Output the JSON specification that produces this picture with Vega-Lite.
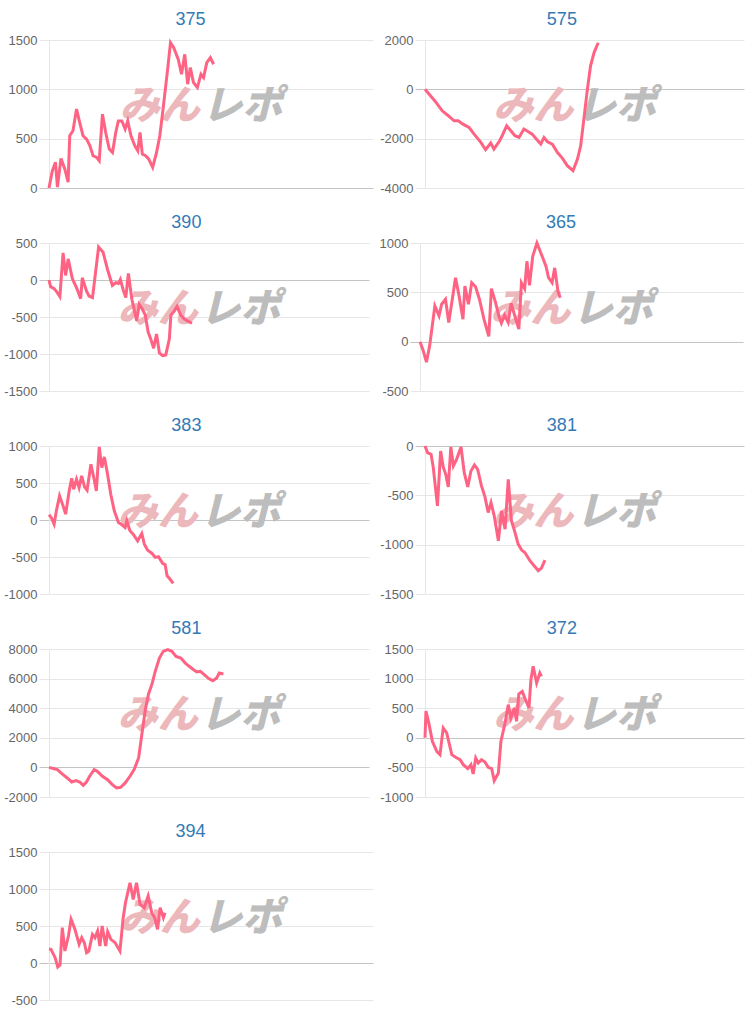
{
  "$schema": "https://vega.github.io/schema/vega-lite/v6.json",
  "background": "white",
  "padding": {"left": 3, "top": 11, "right": 5, "bottom": 5},
  "columns": 2,
  "align": "none",
  "bounds": "full",
  "spacing": {"row": 19, "column": 6},
  "config": {
    "view": {"stroke": null},
    "title": {"font": "Liberation Sans", "fontSize": 18, "fontWeight": "normal", "color": "#337ab7", "frame": "bounds", "anchor": "middle", "offset": 5},
    "axisY": {"title": null, "labelExpr": "'' + datum.value", "tickCount": 20, "labelOverlap": false, "labelFont": "Liberation Sans", "labelFontSize": 13, "labelColor": "#666666", "tickSize": 10, "labelPadding": 2, "domainColor": "#e6e6e6", "grid": true, "gridWidth": 1, "tickWidth": 1},
    "text": {"font": "Noto Sans CJK JP"}
  },
  "datasets": {
    "wm1": [{"t": "みん"}],
    "wm2": [{"t": "レポ"}],
    "d375": [{"x":0,"y":0},{"x":1,"y":170},{"x":2,"y":260},{"x":2.6,"y":10},{"x":3.7,"y":300},{"x":4.9,"y":190},{"x":5.9,"y":60},{"x":6.4,"y":530},{"x":7.4,"y":580},{"x":8.5,"y":800},{"x":9.5,"y":660},{"x":10.5,"y":530},{"x":11.6,"y":495},{"x":12.6,"y":430},{"x":13.6,"y":327},{"x":14.7,"y":310},{"x":15.5,"y":276},{"x":16.5,"y":748},{"x":17.5,"y":563},{"x":18.6,"y":394},{"x":19.6,"y":360},{"x":20.6,"y":563},{"x":21.4,"y":680},{"x":22.5,"y":680},{"x":23.5,"y":597},{"x":24.3,"y":680},{"x":25.3,"y":530},{"x":26.5,"y":428},{"x":27.4,"y":378},{"x":28.1,"y":563},{"x":28.8,"y":344},{"x":29.8,"y":327},{"x":30.8,"y":293},{"x":32,"y":209},{"x":33.2,"y":360},{"x":34.2,"y":530},{"x":35.2,"y":800},{"x":36.5,"y":1170},{"x":37.5,"y":1473},{"x":38.5,"y":1423},{"x":39.9,"y":1304},{"x":40.9,"y":1153},{"x":41.9,"y":1355},{"x":42.8,"y":1052},{"x":43.6,"y":1220},{"x":44.6,"y":1069},{"x":45.8,"y":1018},{"x":46.9,"y":1153},{"x":47.7,"y":1119},{"x":48.7,"y":1271},{"x":49.8,"y":1321},{"x":50.8,"y":1254}],
    "d575": [{"x":0,"y":0},{"x":3.1,"y":-470},{"x":5.4,"y":-870},{"x":7.3,"y":-1070},{"x":9.1,"y":-1275},{"x":10.4,"y":-1275},{"x":11.9,"y":-1410},{"x":13.8,"y":-1545},{"x":15.4,"y":-1815},{"x":17.5,"y":-2150},{"x":19.0,"y":-2450},{"x":20.6,"y":-2180},{"x":21.6,"y":-2420},{"x":23.4,"y":-2085},{"x":24.2,"y":-1880},{"x":25.6,"y":-1480},{"x":26.9,"y":-1680},{"x":28.2,"y":-1880},{"x":29.5,"y":-1950},{"x":31.0,"y":-1610},{"x":32.4,"y":-1720},{"x":33.6,"y":-1815},{"x":34.9,"y":-2015},{"x":36.3,"y":-2220},{"x":37.3,"y":-1950},{"x":38.4,"y":-2125},{"x":39.9,"y":-2220},{"x":41.5,"y":-2555},{"x":43.1,"y":-2800},{"x":44.6,"y":-3095},{"x":46.4,"y":-3300},{"x":47.8,"y":-2825},{"x":48.8,"y":-2290},{"x":49.8,"y":-1210},{"x":50.9,"y":0},{"x":51.9,"y":950},{"x":53.0,"y":1490},{"x":54.3,"y":1890}],
    "d390": [{"x":0,"y":0},{"x":0.5,"y":-90},{"x":1.6,"y":-117},{"x":2.6,"y":-171},{"x":3.4,"y":-225},{"x":4.4,"y":366},{"x":5.2,"y":62},{"x":6.0,"y":285},{"x":7.3,"y":17},{"x":8.6,"y":-104},{"x":9.9,"y":-252},{"x":10.4,"y":30},{"x":11.7,"y":-149},{"x":12.5,"y":-216},{"x":13.6,"y":-238},{"x":15.5,"y":446},{"x":16.9,"y":375},{"x":18.3,"y":142},{"x":19.8,"y":-73},{"x":20.9,"y":-37},{"x":21.7,"y":-46},{"x":22.3,"y":8},{"x":23.2,"y":-135},{"x":24.0,"y":-238},{"x":24.8,"y":88},{"x":25.9,"y":-261},{"x":27.4,"y":-551},{"x":28.2,"y":-328},{"x":29.2,"y":-395},{"x":30.1,"y":-475},{"x":31.0,"y":-708},{"x":31.8,"y":-797},{"x":32.7,"y":-923},{"x":33.6,"y":-730},{"x":34.5,"y":-985},{"x":35.5,"y":-1021},{"x":36.5,"y":-1012},{"x":37.6,"y":-797},{"x":38.1,"y":-475},{"x":39.2,"y":-417},{"x":40.0,"y":-359},{"x":41.2,"y":-475},{"x":42.3,"y":-529},{"x":43.8,"y":-565},{"x":44.7,"y":-583}],
    "d365": [{"x":0,"y":0},{"x":0.9,"y":-81},{"x":2.0,"y":-208},{"x":3.0,"y":-40},{"x":3.8,"y":161},{"x":4.6,"y":362},{"x":5.9,"y":262},{"x":6.7,"y":379},{"x":7.9,"y":430},{"x":8.9,"y":195},{"x":10.0,"y":430},{"x":11.0,"y":648},{"x":12.0,"y":480},{"x":13.3,"y":228},{"x":13.9,"y":564},{"x":15.0,"y":379},{"x":16.0,"y":597},{"x":17.2,"y":557},{"x":18.4,"y":430},{"x":19.8,"y":228},{"x":21.3,"y":54},{"x":22.1,"y":537},{"x":23.4,"y":396},{"x":24.4,"y":262},{"x":25.2,"y":188},{"x":26.2,"y":268},{"x":27.3,"y":195},{"x":28.2,"y":389},{"x":29.3,"y":268},{"x":30.6,"y":127},{"x":31.4,"y":597},{"x":32.4,"y":537},{"x":33.1,"y":815},{"x":33.9,"y":570},{"x":34.9,"y":866},{"x":36.2,"y":1000},{"x":37.6,"y":883},{"x":39.0,"y":765},{"x":39.8,"y":648},{"x":40.9,"y":597},{"x":41.7,"y":748},{"x":42.7,"y":513},{"x":43.4,"y":446}],
    "d383": [{"x":0,"y":70},{"x":0.7,"y":34},{"x":1.6,"y":-56},{"x":2.3,"y":124},{"x":3.3,"y":326},{"x":4.4,"y":191},{"x":5.2,"y":79},{"x":6.3,"y":393},{"x":7.1,"y":564},{"x":7.7,"y":416},{"x":8.6,"y":551},{"x":9.4,"y":438},{"x":10.2,"y":596},{"x":11.1,"y":447},{"x":11.9,"y":402},{"x":13.1,"y":753},{"x":14.1,"y":551},{"x":14.8,"y":393},{"x":15.7,"y":987},{"x":16.5,"y":708},{"x":17.3,"y":852},{"x":18.3,"y":618},{"x":19.3,"y":348},{"x":20.4,"y":124},{"x":21.7,"y":-34},{"x":22.8,"y":-65},{"x":23.8,"y":-101},{"x":24.3,"y":-11},{"x":25.3,"y":-146},{"x":26.3,"y":-191},{"x":27.7,"y":-281},{"x":29.0,"y":-182},{"x":29.8,"y":-326},{"x":30.8,"y":-407},{"x":32.2,"y":-452},{"x":33.2,"y":-506},{"x":34.2,"y":-497},{"x":35.5,"y":-586},{"x":36.3,"y":-604},{"x":36.9,"y":-753},{"x":37.8,"y":-798},{"x":38.8,"y":-856}],
    "d381": [{"x":0,"y":0},{"x":0.8,"y":-67},{"x":1.9,"y":-84},{"x":2.6,"y":-219},{"x":3.9,"y":-607},{"x":4.9,"y":-51},{"x":5.7,"y":-212},{"x":6.5,"y":-287},{"x":7.3,"y":-415},{"x":8.1,"y":-10},{"x":8.9,"y":-202},{"x":9.9,"y":-135},{"x":11.3,"y":-10},{"x":12.3,"y":-270},{"x":13.4,"y":-415},{"x":14.4,"y":-253},{"x":15.5,"y":-192},{"x":16.5,"y":-236},{"x":17.7,"y":-405},{"x":18.8,"y":-516},{"x":19.8,"y":-674},{"x":20.7,"y":-573},{"x":21.7,"y":-708},{"x":23.0,"y":-961},{"x":24.0,"y":-657},{"x":25.1,"y":-843},{"x":26.1,"y":-337},{"x":27.1,"y":-758},{"x":28.2,"y":-876},{"x":29.2,"y":-994},{"x":30.3,"y":-1055},{"x":31.3,"y":-1079},{"x":32.9,"y":-1163},{"x":34.2,"y":-1214},{"x":35.5,"y":-1264},{"x":36.5,"y":-1237},{"x":37.6,"y":-1156}],
    "d581": [{"x":0,"y":0},{"x":1.6,"y":-90},{"x":2.6,"y":-150},{"x":4.2,"y":-450},{"x":5.7,"y":-715},{"x":7.1,"y":-985},{"x":8.4,"y":-895},{"x":9.6,"y":-985},{"x":10.7,"y":-1210},{"x":11.7,"y":-985},{"x":12.7,"y":-600},{"x":14.1,"y":-150},{"x":15.1,"y":-265},{"x":16.7,"y":-600},{"x":18.3,"y":-830},{"x":19.8,"y":-1165},{"x":21.1,"y":-1390},{"x":22.4,"y":-1345},{"x":23.8,"y":-1050},{"x":25.3,"y":-600},{"x":26.6,"y":-150},{"x":28.0,"y":640},{"x":29.0,"y":2210},{"x":30.1,"y":3900},{"x":31.1,"y":4960},{"x":32.2,"y":5640},{"x":33.2,"y":6490},{"x":34.5,"y":7390},{"x":35.7,"y":7840},{"x":37.1,"y":7955},{"x":38.4,"y":7840},{"x":39.7,"y":7500},{"x":41.2,"y":7390},{"x":42.6,"y":7050},{"x":43.8,"y":6830},{"x":45.2,"y":6600},{"x":46.2,"y":6445},{"x":47.3,"y":6490},{"x":48.5,"y":6265},{"x":49.9,"y":6000},{"x":51.2,"y":5860},{"x":52.4,"y":6040},{"x":53.2,"y":6380},{"x":54.5,"y":6310}],
    "d372": [{"x":0,"y":0},{"x":0.3,"y":450},{"x":1.3,"y":222},{"x":2.3,"y":-59},{"x":3.7,"y":-228},{"x":4.7,"y":-285},{"x":5.7,"y":166},{"x":6.8,"y":82},{"x":8.4,"y":-285},{"x":9.6,"y":-330},{"x":11.0,"y":-369},{"x":12.0,"y":-454},{"x":13.4,"y":-521},{"x":14.4,"y":-454},{"x":15.1,"y":-611},{"x":15.9,"y":-341},{"x":16.7,"y":-425},{"x":17.7,"y":-369},{"x":18.8,"y":-408},{"x":19.8,"y":-499},{"x":20.9,"y":-521},{"x":21.7,"y":-724},{"x":23.0,"y":-594},{"x":23.8,"y":-59},{"x":25.1,"y":250},{"x":26.1,"y":560},{"x":26.9,"y":335},{"x":28.0,"y":504},{"x":28.7,"y":278},{"x":29.4,"y":740},{"x":30.5,"y":785},{"x":31.5,"y":644},{"x":32.6,"y":504},{"x":33.2,"y":982},{"x":33.9,"y":1207},{"x":35.0,"y":926},{"x":36.0,"y":1095},{"x":36.5,"y":1038}],
    "d394": [{"x":0,"y":190},{"x":0.6,"y":185},{"x":1.9,"y":72},{"x":2.7,"y":-54},{"x":3.4,"y":-27},{"x":4.1,"y":477},{"x":4.9,"y":162},{"x":6.0,"y":365},{"x":6.8,"y":590},{"x":8.0,"y":455},{"x":9.3,"y":252},{"x":10.1,"y":342},{"x":10.9,"y":275},{"x":11.6,"y":140},{"x":12.3,"y":162},{"x":13.4,"y":387},{"x":14.2,"y":342},{"x":15.0,"y":432},{"x":15.7,"y":230},{"x":16.4,"y":500},{"x":17.5,"y":230},{"x":18.1,"y":423},{"x":19.1,"y":320},{"x":20.4,"y":275},{"x":21.9,"y":162},{"x":22.9,"y":612},{"x":23.6,"y":815},{"x":25.0,"y":1085},{"x":26.0,"y":860},{"x":27.0,"y":1085},{"x":28.1,"y":793},{"x":29.4,"y":748},{"x":30.6,"y":905},{"x":31.7,"y":680},{"x":32.7,"y":604},{"x":33.5,"y":455},{"x":34.3,"y":748},{"x":35.3,"y":612},{"x":35.8,"y":680}]
  },
  "concat": [
      {"title": "375", "width": 324, "height": 148, "layer": [
        {"data": {"name": "wm1"}, "mark": {"type": "text", "align": "right", "baseline": "middle", "fontSize": 40, "fontWeight": 900, "fontStyle": "italic", "color": "#ecb8bb"}, "encoding": {"x": {"datum": 46.5, "type": "quantitative", "scale": {"domain": [0, 100]}, "axis": null}, "y": {"datum": 818, "type": "quantitative"}, "text": {"field": "t"}}},
        {"data": {"name": "wm2"}, "mark": {"type": "text", "align": "left", "baseline": "middle", "fontSize": 40, "fontWeight": 900, "fontStyle": "italic", "color": "#bdbdbd"}, "encoding": {"x": {"datum": 47.3, "type": "quantitative", "axis": null}, "y": {"datum": 818, "type": "quantitative"}, "text": {"field": "t"}}},
        {"data": {"name": "d375"}, "mark": {"type": "line", "color": "#ff6384", "strokeWidth": 3}, "encoding": {"x": {"field": "x", "type": "quantitative", "axis": null}, "y": {"field": "y", "type": "quantitative", "scale": {"domain": [0, 1500], "nice": false, "zero": false}, "axis": {"values": [0, 500, 1000, 1500], "tickCount": 20, "gridColor": {"condition": {"test": "datum.value === 0", "value": "#c4c4c4"}, "value": "#e6e6e6"}, "tickColor": {"condition": {"test": "datum.value === 0", "value": "#c4c4c4"}, "value": "#e6e6e6"}}}}}
      ]},
      {"title": "575", "width": 319, "height": 148, "layer": [
        {"data": {"name": "wm1"}, "mark": {"type": "text", "align": "right", "baseline": "middle", "fontSize": 40, "fontWeight": 900, "fontStyle": "italic", "color": "#ecb8bb"}, "encoding": {"x": {"datum": 46.5, "type": "quantitative", "scale": {"domain": [0, 100]}, "axis": null}, "y": {"datum": -730, "type": "quantitative"}, "text": {"field": "t"}}},
        {"data": {"name": "wm2"}, "mark": {"type": "text", "align": "left", "baseline": "middle", "fontSize": 40, "fontWeight": 900, "fontStyle": "italic", "color": "#bdbdbd"}, "encoding": {"x": {"datum": 47.3, "type": "quantitative", "axis": null}, "y": {"datum": -730, "type": "quantitative"}, "text": {"field": "t"}}},
        {"data": {"name": "d575"}, "mark": {"type": "line", "color": "#ff6384", "strokeWidth": 3}, "encoding": {"x": {"field": "x", "type": "quantitative", "axis": null}, "y": {"field": "y", "type": "quantitative", "scale": {"domain": [-4000, 2000], "nice": false, "zero": false}, "axis": {"values": [-4000, -2000, 0, 2000], "tickCount": 20, "gridColor": {"condition": {"test": "datum.value === 0", "value": "#c4c4c4"}, "value": "#e6e6e6"}, "tickColor": {"condition": {"test": "datum.value === 0", "value": "#c4c4c4"}, "value": "#e6e6e6"}}}}}
      ]},
      {"title": "390", "width": 320, "height": 148, "layer": [
        {"data": {"name": "wm1"}, "mark": {"type": "text", "align": "right", "baseline": "middle", "fontSize": 40, "fontWeight": 900, "fontStyle": "italic", "color": "#ecb8bb"}, "encoding": {"x": {"datum": 46.5, "type": "quantitative", "scale": {"domain": [0, 100]}, "axis": null}, "y": {"datum": -410, "type": "quantitative"}, "text": {"field": "t"}}},
        {"data": {"name": "wm2"}, "mark": {"type": "text", "align": "left", "baseline": "middle", "fontSize": 40, "fontWeight": 900, "fontStyle": "italic", "color": "#bdbdbd"}, "encoding": {"x": {"datum": 47.3, "type": "quantitative", "axis": null}, "y": {"datum": -410, "type": "quantitative"}, "text": {"field": "t"}}},
        {"data": {"name": "d390"}, "mark": {"type": "line", "color": "#ff6384", "strokeWidth": 3}, "encoding": {"x": {"field": "x", "type": "quantitative", "axis": null}, "y": {"field": "y", "type": "quantitative", "scale": {"domain": [-1500, 500], "nice": false, "zero": false}, "axis": {"values": [-1500, -1000, -500, 0, 500], "tickCount": 20, "gridColor": {"condition": {"test": "datum.value === 0", "value": "#c4c4c4"}, "value": "#e6e6e6"}, "tickColor": {"condition": {"test": "datum.value === 0", "value": "#c4c4c4"}, "value": "#e6e6e6"}}}}}
      ]},
      {"title": "365", "width": 323, "height": 148, "layer": [
        {"data": {"name": "wm1"}, "mark": {"type": "text", "align": "right", "baseline": "middle", "fontSize": 40, "fontWeight": 900, "fontStyle": "italic", "color": "#ecb8bb"}, "encoding": {"x": {"datum": 46.5, "type": "quantitative", "scale": {"domain": [0, 100]}, "axis": null}, "y": {"datum": 318, "type": "quantitative"}, "text": {"field": "t"}}},
        {"data": {"name": "wm2"}, "mark": {"type": "text", "align": "left", "baseline": "middle", "fontSize": 40, "fontWeight": 900, "fontStyle": "italic", "color": "#bdbdbd"}, "encoding": {"x": {"datum": 47.3, "type": "quantitative", "axis": null}, "y": {"datum": 318, "type": "quantitative"}, "text": {"field": "t"}}},
        {"data": {"name": "d365"}, "mark": {"type": "line", "color": "#ff6384", "strokeWidth": 3}, "encoding": {"x": {"field": "x", "type": "quantitative", "axis": null}, "y": {"field": "y", "type": "quantitative", "scale": {"domain": [-500, 1000], "nice": false, "zero": false}, "axis": {"values": [-500, 0, 500, 1000], "tickCount": 20, "gridColor": {"condition": {"test": "datum.value === 0", "value": "#c4c4c4"}, "value": "#e6e6e6"}, "tickColor": {"condition": {"test": "datum.value === 0", "value": "#c4c4c4"}, "value": "#e6e6e6"}}}}}
      ]},
      {"title": "383", "width": 320, "height": 148, "layer": [
        {"data": {"name": "wm1"}, "mark": {"type": "text", "align": "right", "baseline": "middle", "fontSize": 40, "fontWeight": 900, "fontStyle": "italic", "color": "#ecb8bb"}, "encoding": {"x": {"datum": 46.5, "type": "quantitative", "scale": {"domain": [0, 100]}, "axis": null}, "y": {"datum": 90, "type": "quantitative"}, "text": {"field": "t"}}},
        {"data": {"name": "wm2"}, "mark": {"type": "text", "align": "left", "baseline": "middle", "fontSize": 40, "fontWeight": 900, "fontStyle": "italic", "color": "#bdbdbd"}, "encoding": {"x": {"datum": 47.3, "type": "quantitative", "axis": null}, "y": {"datum": 90, "type": "quantitative"}, "text": {"field": "t"}}},
        {"data": {"name": "d383"}, "mark": {"type": "line", "color": "#ff6384", "strokeWidth": 3}, "encoding": {"x": {"field": "x", "type": "quantitative", "axis": null}, "y": {"field": "y", "type": "quantitative", "scale": {"domain": [-1000, 1000], "nice": false, "zero": false}, "axis": {"values": [-1000, -500, 0, 500, 1000], "tickCount": 20, "gridColor": {"condition": {"test": "datum.value === 0", "value": "#c4c4c4"}, "value": "#e6e6e6"}, "tickColor": {"condition": {"test": "datum.value === 0", "value": "#c4c4c4"}, "value": "#e6e6e6"}}}}}
      ]},
      {"title": "381", "width": 319, "height": 148, "layer": [
        {"data": {"name": "wm1"}, "mark": {"type": "text", "align": "right", "baseline": "middle", "fontSize": 40, "fontWeight": 900, "fontStyle": "italic", "color": "#ecb8bb"}, "encoding": {"x": {"datum": 46.5, "type": "quantitative", "scale": {"domain": [0, 100]}, "axis": null}, "y": {"datum": -682, "type": "quantitative"}, "text": {"field": "t"}}},
        {"data": {"name": "wm2"}, "mark": {"type": "text", "align": "left", "baseline": "middle", "fontSize": 40, "fontWeight": 900, "fontStyle": "italic", "color": "#bdbdbd"}, "encoding": {"x": {"datum": 47.3, "type": "quantitative", "axis": null}, "y": {"datum": -682, "type": "quantitative"}, "text": {"field": "t"}}},
        {"data": {"name": "d381"}, "mark": {"type": "line", "color": "#ff6384", "strokeWidth": 3}, "encoding": {"x": {"field": "x", "type": "quantitative", "axis": null}, "y": {"field": "y", "type": "quantitative", "scale": {"domain": [-1500, 0], "nice": false, "zero": false}, "axis": {"values": [-1500, -1000, -500, 0], "tickCount": 20, "gridColor": {"condition": {"test": "datum.value === 0", "value": "#c4c4c4"}, "value": "#e6e6e6"}, "tickColor": {"condition": {"test": "datum.value === 0", "value": "#c4c4c4"}, "value": "#e6e6e6"}}}}}
      ]},
      {"title": "581", "width": 320, "height": 148, "layer": [
        {"data": {"name": "wm1"}, "mark": {"type": "text", "align": "right", "baseline": "middle", "fontSize": 40, "fontWeight": 900, "fontStyle": "italic", "color": "#ecb8bb"}, "encoding": {"x": {"datum": 46.5, "type": "quantitative", "scale": {"domain": [0, 100]}, "axis": null}, "y": {"datum": 3450, "type": "quantitative"}, "text": {"field": "t"}}},
        {"data": {"name": "wm2"}, "mark": {"type": "text", "align": "left", "baseline": "middle", "fontSize": 40, "fontWeight": 900, "fontStyle": "italic", "color": "#bdbdbd"}, "encoding": {"x": {"datum": 47.3, "type": "quantitative", "axis": null}, "y": {"datum": 3450, "type": "quantitative"}, "text": {"field": "t"}}},
        {"data": {"name": "d581"}, "mark": {"type": "line", "color": "#ff6384", "strokeWidth": 3}, "encoding": {"x": {"field": "x", "type": "quantitative", "axis": null}, "y": {"field": "y", "type": "quantitative", "scale": {"domain": [-2000, 8000], "nice": false, "zero": false}, "axis": {"values": [-2000, 0, 2000, 4000, 6000, 8000], "tickCount": 20, "gridColor": {"condition": {"test": "datum.value === 0", "value": "#c4c4c4"}, "value": "#e6e6e6"}, "tickColor": {"condition": {"test": "datum.value === 0", "value": "#c4c4c4"}, "value": "#e6e6e6"}}}}}
      ]},
      {"title": "372", "width": 319, "height": 148, "layer": [
        {"data": {"name": "wm1"}, "mark": {"type": "text", "align": "right", "baseline": "middle", "fontSize": 40, "fontWeight": 900, "fontStyle": "italic", "color": "#ecb8bb"}, "encoding": {"x": {"datum": 46.5, "type": "quantitative", "scale": {"domain": [0, 100]}, "axis": null}, "y": {"datum": 363, "type": "quantitative"}, "text": {"field": "t"}}},
        {"data": {"name": "wm2"}, "mark": {"type": "text", "align": "left", "baseline": "middle", "fontSize": 40, "fontWeight": 900, "fontStyle": "italic", "color": "#bdbdbd"}, "encoding": {"x": {"datum": 47.3, "type": "quantitative", "axis": null}, "y": {"datum": 363, "type": "quantitative"}, "text": {"field": "t"}}},
        {"data": {"name": "d372"}, "mark": {"type": "line", "color": "#ff6384", "strokeWidth": 3}, "encoding": {"x": {"field": "x", "type": "quantitative", "axis": null}, "y": {"field": "y", "type": "quantitative", "scale": {"domain": [-1000, 1500], "nice": false, "zero": false}, "axis": {"values": [-1000, -500, 0, 500, 1000, 1500], "tickCount": 20, "gridColor": {"condition": {"test": "datum.value === 0", "value": "#c4c4c4"}, "value": "#e6e6e6"}, "tickColor": {"condition": {"test": "datum.value === 0", "value": "#c4c4c4"}, "value": "#e6e6e6"}}}}}
      ]},
      {"title": "394", "width": 324, "height": 148, "layer": [
        {"data": {"name": "wm1"}, "mark": {"type": "text", "align": "right", "baseline": "middle", "fontSize": 40, "fontWeight": 900, "fontStyle": "italic", "color": "#ecb8bb"}, "encoding": {"x": {"datum": 46.5, "type": "quantitative", "scale": {"domain": [0, 100]}, "axis": null}, "y": {"datum": 590, "type": "quantitative"}, "text": {"field": "t"}}},
        {"data": {"name": "wm2"}, "mark": {"type": "text", "align": "left", "baseline": "middle", "fontSize": 40, "fontWeight": 900, "fontStyle": "italic", "color": "#bdbdbd"}, "encoding": {"x": {"datum": 47.3, "type": "quantitative", "axis": null}, "y": {"datum": 590, "type": "quantitative"}, "text": {"field": "t"}}},
        {"data": {"name": "d394"}, "mark": {"type": "line", "color": "#ff6384", "strokeWidth": 3}, "encoding": {"x": {"field": "x", "type": "quantitative", "axis": null}, "y": {"field": "y", "type": "quantitative", "scale": {"domain": [-500, 1500], "nice": false, "zero": false}, "axis": {"values": [-500, 0, 500, 1000, 1500], "tickCount": 20, "gridColor": {"condition": {"test": "datum.value === 0", "value": "#c4c4c4"}, "value": "#e6e6e6"}, "tickColor": {"condition": {"test": "datum.value === 0", "value": "#c4c4c4"}, "value": "#e6e6e6"}}}}}
      ]}
  ]
}
